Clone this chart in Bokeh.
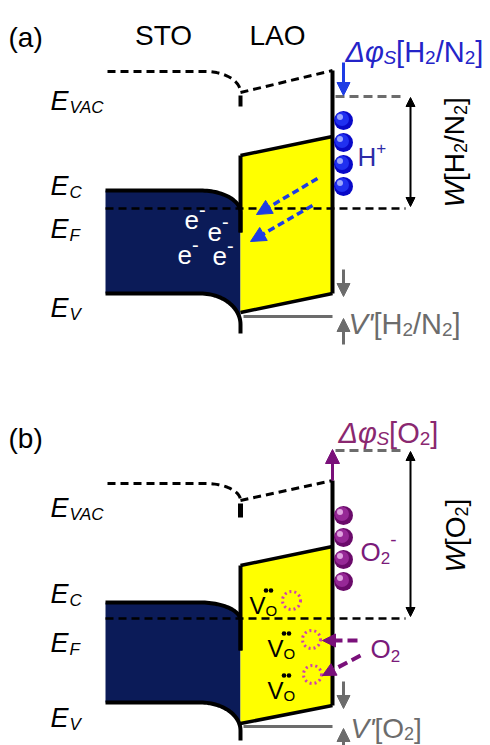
import numpy as np
from bokeh.plotting import figure
from bokeh.models import Range1d, Arrow, NormalHead
from bokeh.core.properties import value
from bokeh.embed import file_html
from bokeh.resources import INLINE

# ---------------- schematic data (screen-like units, y grows downward) ----------------
panel_tags = ["(a)", "(b)"]
materials = ["STO", "LAO"]
material_x = [163, 277]
# per panel: [a, b]
evac_flat = [71, 483]
evac_bend = [92, 500]
evac_tick = [106, 517]
evac_surf = [70, 480]
ec_sto = [190, 602]
ec_bend = [212, 620]
ec_step = [232, 650]
ef_level = [208, 618]
ev_sto = [293, 702]
ev_bend = [324, 730]
ev_step = [333, 740]
cb_lao_left = [155, 565]
cb_lao_right = [136, 546]
vb_lao_left = [312, 723]
vb_lao_right = [293, 705]
ref_level = [96, 450]
vref_level = [316, 726]
# x positions of the structure
x_sto_left, x_bend, x_interface, x_surface = 105, 200, 240, 332
x_evac_left, x_ref_right, x_w = 107, 405, 410
# energy labels
e_subs = ["VAC", "C", "F", "V"]
e_base_a = [100, 185, 228, 307]
e_base_b = [507, 593, 642, 717]
# adsorbate spheres
sph_a = [120, 142, 164, 186]
sph_b = [515, 537, 559, 581]
# electrons (panel a)
el_x = [184, 207, 177, 212]
el_y = [219, 231, 254, 255]
# oxygen vacancies (panel b)
vo_x = [249, 267, 267]
vo_y = [605, 648, 690]
vo_cx = [291, 311, 312]
vo_cy = [600, 639, 674]

FONT = "Liberation Sans"
NAVY = "#0b1b58"
YEL = "#ffff00"
BLUE_T = "#2424c8"
BLUE_A = "#1e3ce4"
PURP_T = "#8a2870"
PURP_A = "#7a107a"
GRAY = "#6c6c6c"

p = figure(width=490, height=745, x_range=Range1d(0, 490), y_range=Range1d(745, 0),
           output_backend="svg", toolbar_location=None, min_border=0,
           x_axis_location=None, y_axis_location=None)
p.grid.visible = False
p.outline_line_color = None
p.background_fill_color = "white"

ADV = {'(': 333, ')': 333, 'a': 556, 'b': 556, 'S': 667, 'T': 611, 'O': 778, 'L': 556,
       'A': 667, 'E': 667, 'V': 667, 'C': 722, 'F': 611, 'W': 944, 'H': 722, 'N': 722,
       '[': 278, ']': 278, '/': 278, '2': 556, '+': 584, '-': 333, 'e': 556, "'": 191,
       'Δ': 667, 'φ': 640, '•': 350}


def adv(s, size):
    return sum(ADV.get(ch, 600) for ch in s) / 1000.0 * size


def rich(x, y, parts, color, vertical=False):
    pos = 0.0
    for t, size, it, shift, *extra in parts:
        if vertical:
            px, py, ang = x + shift, y - pos, np.pi / 2
        else:
            px, py, ang = x + pos, y + shift, 0.0
        p.text(x=[px], y=[py], text=[t], angle=ang, text_font=value(FONT),
               text_font_size=f"{size}px", text_font_style="italic" if it else "normal",
               text_color=color, text_align="left", text_baseline="alphabetic")
        pos += adv(t, size) + (extra[0] if extra else 0)


def bend(x0, x1, y0, y1, n=30):
    t = np.linspace(0, np.pi / 2, n)
    return x0 + (x1 - x0) * np.sin(t), y0 + (y1 - y0) * (1 - np.cos(t))


def arrow(x0, y0, x1, y1, color, lw, size, dash="solid", both=False):
    head = dict(size=size, fill_color=color, line_color=color, line_width=1)
    p.add_layout(Arrow(x_start=x0, y_start=y0, x_end=x1, y_end=y1,
                       line_color=color, line_width=lw, line_dash=dash,
                       end=NormalHead(**head), start=NormalHead(**head) if both else None))


def sphere(x, y, dark, mid, light):
    p.circle(x=[x], y=[y], radius=9.5, fill_color=dark, line_color=None)
    p.circle(x=[x - 1.5], y=[y - 1.5], radius=7, fill_color=mid, line_color=None)
    p.circle(x=[x - 3.5], y=[y - 3.5], radius=3, fill_color=light, line_color=None, fill_alpha=0.9)


for i in range(2):
    # ---- STO bands (navy) ----
    tx, ty = bend(x_bend, x_interface, ec_sto[i], ec_bend[i])
    bx, by = bend(x_bend, x_interface, ev_sto[i], ev_bend[i])
    px_ = [x_sto_left] + list(tx) + list(bx[::-1]) + [x_sto_left]
    py_ = [ec_sto[i]] + list(ty) + list(by[::-1]) + [ev_sto[i]]
    p.patch(px_, py_, fill_color=NAVY, line_color=None)
    # ---- LAO (yellow) ----
    p.patch([x_interface, x_surface, x_surface, x_interface],
            [cb_lao_left[i], cb_lao_right[i], vb_lao_right[i], vb_lao_left[i]],
            fill_color=YEL, line_color=None)
    # band edges
    p.line([x_sto_left] + list(tx) + [x_interface], [ec_sto[i]] + list(ty) + [ec_step[i]],
           line_color="black", line_width=4)
    p.line([x_sto_left] + list(bx) + [x_interface], [ev_sto[i]] + list(by) + [ev_step[i]],
           line_color="black", line_width=4)
    p.line([x_interface, x_interface], [cb_lao_left[i], ec_step[i]], line_color="black", line_width=4)
    p.line([x_interface, x_surface], [cb_lao_left[i], cb_lao_right[i]], line_color="black", line_width=3.5)
    p.line([x_interface, x_surface], [vb_lao_left[i], vb_lao_right[i]], line_color="black", line_width=3.5)
    p.line([x_surface, x_surface], [evac_surf[i], vb_lao_right[i]], line_color="black", line_width=4)
    # vacuum level
    vx, vy = bend(205, x_interface, evac_flat[i], evac_bend[i])
    p.line([x_evac_left] + list(vx), [evac_flat[i]] + list(vy), line_color="black",
           line_width=3, line_dash="8 5")
    p.line([x_interface, x_surface], [evac_bend[i], evac_surf[i]], line_color="black",
           line_width=3, line_dash="8 5")
    p.line([x_interface, x_interface], [evac_bend[i] + 3, evac_tick[i]], line_color="black",
           line_width=4 if i == 0 else 5)
    # Fermi level
    p.line([x_sto_left, x_ref_right], [ef_level[i], ef_level[i]], line_color="black",
           line_width=2.5, line_dash="8 5")
    # reference (gray dashed) level and work-function arrow
    p.line([x_surface + 3, x_ref_right], [ref_level[i], ref_level[i]], line_color=GRAY,
           line_width=3, line_dash="9 5")
    arrow(x_w, ef_level[i] - 2, x_w, ref_level[i] + 1, "black", 2, 9, both=True)
    # V' gray line and arrows
    p.line([x_interface + 3, x_surface], [vref_level[i], vref_level[i]], line_color=GRAY, line_width=3)
    arrow(343, vb_lao_right[i] - 24, 343, vb_lao_right[i] + 3, GRAY, 3, 13)
    arrow(343, vref_level[i] + 28, 343, vref_level[i] + 2, GRAY, 3, 13)
    # panel tag and E labels
    rich(8, 37 + [0, 401][i], [(panel_tags[i], 28, False, 0)], "black")
    bases = [e_base_a, e_base_b][i]
    for s, yb in zip(e_subs, bases):
        rich(50, yb, [("E", 27, True, 0, 1), (s, 17, True, 7)], "black")

# material names
for m, mx in zip(materials, material_x):
    p.text(x=[mx], y=[35], text=[m], text_font=value(FONT), text_font_size="28px",
           text_align="center", text_baseline="alphabetic", text_color="black")

# ---- panel (a) extras ----
for yy in sph_a:
    sphere(343, yy, "#0808c8", "#2030f0", "#a8b4ff")
rich(357, 156, [("H", 26, False, 0), ("+", 17, False, -9)], "#2c2ca8")
rich(345, 51, [("Δφ", 29, True, 0), ("S", 19, True, 6), ("[H", 29, False, 0), ("2", 19, False, 6),
               ("/N", 29, False, 0), ("2", 19, False, 6), ("]", 29, False, 0)], BLUE_T)
arrow(343, 62, 343, 95, BLUE_A, 3, 13)
rich(454, 207, [("W", 28, True, 0), ("[H", 28, False, 0), ("2", 18, False, 6),
                ("/N", 28, False, 0), ("2", 18, False, 6), ("]", 28, False, 0)], "black", vertical=True)
rich(348, 323, [("V", 29, True, 0), ("'", 29, True, 0), ("[H", 29, False, 0), ("2", 19, False, 6),
                ("/N", 29, False, 0), ("2", 19, False, 6), ("]", 29, False, 0)], GRAY)
arrow(317, 178, 256, 214, BLUE_A, 3.5, 15, dash="7 4")
arrow(312, 205, 250, 241, BLUE_A, 3.5, 15, dash="7 4")
for ex, ey in zip(el_x, el_y):
    rich(ex, ey, [("e", 26, False, 0), ("-", 20, False, -10)], "white")

# ---- panel (b) extras ----
for yy in sph_b:
    sphere(343, yy, "#6a0a6a", "#962896", "#e8b0e8")
rich(360, 551, [("O", 26, False, 0), ("2", 17, False, 6), ("-", 19, False, -12)], "#7a1a7a")
rich(338, 432, [("Δφ", 29, True, 0), ("S", 19, True, 6), ("[O", 29, False, 0), ("2", 19, False, 6),
                ("]", 29, False, 0)], PURP_T)
arrow(x_surface, evac_surf[1], x_surface, 449, PURP_A, 3, 14)
rich(455, 572, [("W", 28, True, 0), ("[O", 28, False, 0), ("2", 18, False, 6),
                ("]", 28, False, 0)], "black", vertical=True)
rich(350, 728, [("V", 28, True, 0), ("'", 28, True, 0), ("[O", 28, False, 0), ("2", 18, False, 5),
                ("]", 28, False, 0)], GRAY)
for vx_, vy_, cx_, cy_ in zip(vo_x, vo_y, vo_cx, vo_cy):
    rich(vx_, vy_, [("V", 24, False, 0), ("O", 15, False, 5)], "black")
    p.circle(x=[vx_ + 16.5, vx_ + 21.5], y=[vy_ - 15, vy_ - 15], radius=2.3,
             fill_color="black", line_color=None)
    p.circle(x=[cx_], y=[cy_], radius=9, fill_color=None, line_color="#d040b0",
             line_width=3, line_dash="2 3")
rich(370, 648, [("O", 26, False, 0), ("2", 17, False, 7)], "#7a1a7a")
arrow(357, 640, 322, 640, PURP_A, 4, 13, dash="10 5")
arrow(360, 655, 322, 675, PURP_A, 4, 13, dash="10 5")

open("out.html", "w").write(file_html(p, INLINE))
